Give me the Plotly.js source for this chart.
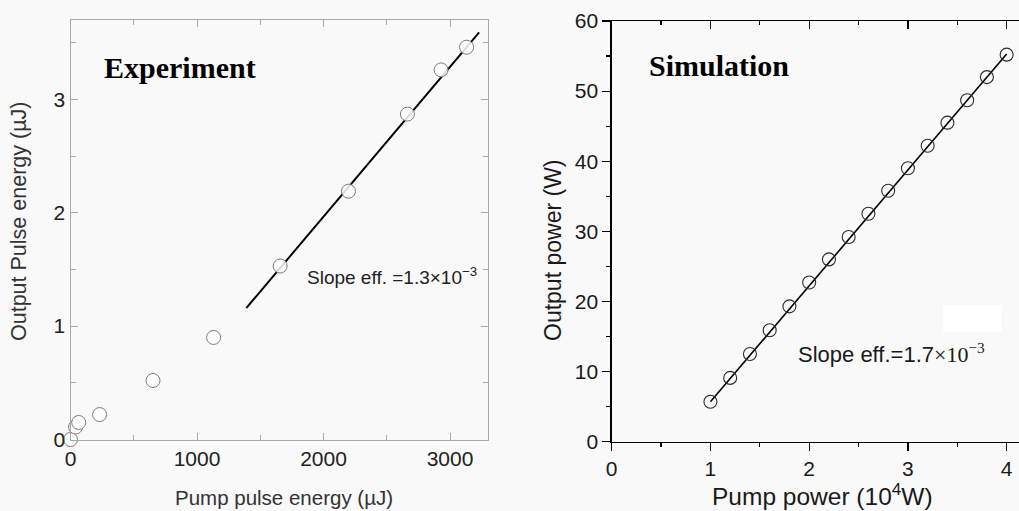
<!DOCTYPE html>
<html>
<head>
<meta charset="utf-8">
<script src="https://cdn.plot.ly/plotly-3.0.1.min.js"></script>
<style>html,body{margin:0;padding:0;background:#f9f9f9;}#chart{width:1019px;height:511px;}</style>
</head>
<body>
<div id="chart"></div>
<script>
// Experiment (left panel)
const expPump = [0, 40, 65, 230, 652, 1131, 1657, 2197, 2663, 2929, 3131];   // µJ
const expOut  = [0, 0.11, 0.15, 0.22, 0.52, 0.90, 1.53, 2.19, 2.87, 3.26, 3.46]; // µJ
const expFitX = [1390, 3230];
const expFitY = [1.16, 3.59];

// Simulation (right panel)
const simPump = [1.0, 1.2, 1.4, 1.6, 1.8, 2.0, 2.2, 2.4, 2.6, 2.8, 3.0, 3.2, 3.4, 3.6, 3.8, 4.0]; // 10^4 W
const simOut  = [5.7, 9.1, 12.5, 15.9, 19.3, 22.7, 26.0, 29.2, 32.5, 35.8, 39.0, 42.2, 45.5, 48.7, 52.0, 55.2]; // W
const simFitX = [1.0, 4.0];
const simFitY = [5.7, 55.3];

const W = 1019, H = 511;
const px = v => v / W;
const py = v => (H - v) / H;

const traces = [
  {x: expFitX, y: expFitY, xaxis: 'x', yaxis: 'y', mode: 'lines',
   line: {color: '#000', width: 2}, hoverinfo: 'skip'},
  {x: expPump, y: expOut, xaxis: 'x', yaxis: 'y', mode: 'markers', cliponaxis: false,
   marker: {symbol: 'circle', size: 14, color: 'rgba(255,255,255,0.85)', line: {color: '#7a7a7a', width: 1}}},
  {x: simFitX, y: simFitY, xaxis: 'x2', yaxis: 'y2', mode: 'lines',
   line: {color: '#000', width: 1.6}, hoverinfo: 'skip'},
  {x: simPump, y: simOut, xaxis: 'x2', yaxis: 'y2', mode: 'markers', cliponaxis: false,
   marker: {symbol: 'circle-open', size: 13, color: '#2a2a2a', line: {width: 1.1}}},
  // dummy trace to activate top axis of right panel
  {x: [0], y: [0], xaxis: 'x3', yaxis: 'y2', mode: 'markers', marker: {opacity: 0}, hoverinfo: 'skip'}
];

const tickFont = {family: 'Arial, Liberation Sans, sans-serif', size: 21, color: '#222'};
const tickFont2 = {family: 'Arial, Liberation Sans, sans-serif', size: 21, color: '#1a1a1a'};

const ann = (text, x, y, size, extra) => Object.assign({
  text: text, xref: 'paper', yref: 'paper', x: px(x), y: py(y),
  xanchor: 'center', yanchor: 'middle', showarrow: false,
  font: {family: 'Arial, Liberation Sans, sans-serif', size: size, color: '#222'}
}, extra || {});

const layout = {
  width: W, height: H,
  margin: {l: 0, r: 0, t: 0, b: 0},
  paper_bgcolor: '#f9f9f9', plot_bgcolor: '#f9f9f9',
  showlegend: false,
  xaxis: {
    domain: [px(70.5), px(488)], range: [0, 3300], anchor: 'y',
    showgrid: false, zeroline: false, showline: true, mirror: 'ticks',
    linecolor: '#a8a8a8', linewidth: 1,
    ticks: 'inside', ticklen: 7, tickcolor: '#a8a8a8', tickwidth: 1,
    tick0: 0, dtick: 1000,
    minor: {ticks: 'inside', dtick: 500, ticklen: 5, tickcolor: '#a8a8a8', showgrid: false},
    tickfont: tickFont
  },
  yaxis: {
    domain: [py(439.5), py(20)], range: [0, 3.7], anchor: 'x',
    showgrid: false, zeroline: false, showline: true, mirror: 'ticks',
    linecolor: '#a8a8a8', linewidth: 1,
    ticks: 'inside', ticklen: 7, tickcolor: '#a8a8a8', tickwidth: 1,
    tick0: 0, dtick: 1,
    minor: {ticks: 'inside', dtick: 0.5, ticklen: 5, tickcolor: '#a8a8a8', showgrid: false},
    tickfont: tickFont
  },
  xaxis2: {
    domain: [px(611.7), 1], range: [0, 4.125], anchor: 'y2',
    showgrid: false, zeroline: false, showline: true,
    linecolor: '#000', linewidth: 1.3,
    ticks: 'outside', ticklen: 8, tickcolor: '#000', tickwidth: 1.2,
    tick0: 0, dtick: 1,
    minor: {ticks: 'outside', dtick: 0.5, ticklen: 4, tickcolor: '#000', showgrid: false},
    tickfont: tickFont2
  },
  xaxis3: {
    overlaying: 'x2', matches: 'x2', side: 'top', anchor: 'y2',
    range: [0, 4.125], showticklabels: false,
    showgrid: false, zeroline: false, showline: true,
    linecolor: '#000', linewidth: 1.3,
    ticks: 'inside', ticklen: 8, tickcolor: '#000', tickwidth: 1.2,
    tick0: 0, dtick: 1,
    minor: {ticks: 'inside', dtick: 0.5, ticklen: 4, tickcolor: '#000', showgrid: false}
  },
  yaxis2: {
    domain: [py(441.7), py(21)], range: [0, 60], anchor: 'x2',
    showgrid: false, zeroline: false, showline: true,
    linecolor: '#000', linewidth: 1.3,
    ticks: 'outside', ticklen: 8, tickcolor: '#000', tickwidth: 1.2,
    tick0: 0, dtick: 10,
    minor: {ticks: 'outside', dtick: 5, ticklen: 4, tickcolor: '#000', showgrid: false},
    tickfont: tickFont2
  },
  shapes: [
    {type: 'rect', xref: 'paper', yref: 'paper', x0: px(943), x1: px(1002), y0: py(332), y1: py(305),
     fillcolor: '#ffffff', line: {width: 0}, layer: 'above'}
  ],
  annotations: [
    ann('<b>Experiment</b>', 180, 67, 30, {font: {family: 'Liberation Serif, Times New Roman, serif', size: 30, color: '#000'}}),
    ann('<b>Simulation</b>', 719, 65, 30, {font: {family: 'Liberation Serif, Times New Roman, serif', size: 30, color: '#000'}}),
    ann('Slope eff. =1.3×10<sup>−3</sup>', 392, 276, 19),
    ann('Slope eff.=1.7<span style="font-family:Liberation Serif">×10<sup>−3</sup></span>', 891, 353, 22, {font: {family: 'Arial, Liberation Sans, sans-serif', size: 22, color: '#1a1a1a'}}),
    ann('Pump pulse energy (µJ)', 284, 497, 20.5, {font: {family: 'Arial, Liberation Sans, sans-serif', size: 20.5, color: '#333'}}),
    ann('Output Pulse energy (µJ)', 19, 222, 21.5, {textangle: -90, font: {family: 'Arial, Liberation Sans, sans-serif', size: 21.5, color: '#333'}}),
    ann('Pump power (10<sup>4</sup>W)', 822, 494, 24.5, {font: {family: 'Arial, Liberation Sans, sans-serif', size: 24.5, color: '#1a1a1a'}}),
    ann('Output power (W)', 553, 250, 23, {textangle: -90, font: {family: 'Arial, Liberation Sans, sans-serif', size: 23, color: '#1a1a1a'}})
  ]
};

Plotly.newPlot('chart', traces, layout, {displayModeBar: false, staticPlot: true});
</script>
</body>
</html>
